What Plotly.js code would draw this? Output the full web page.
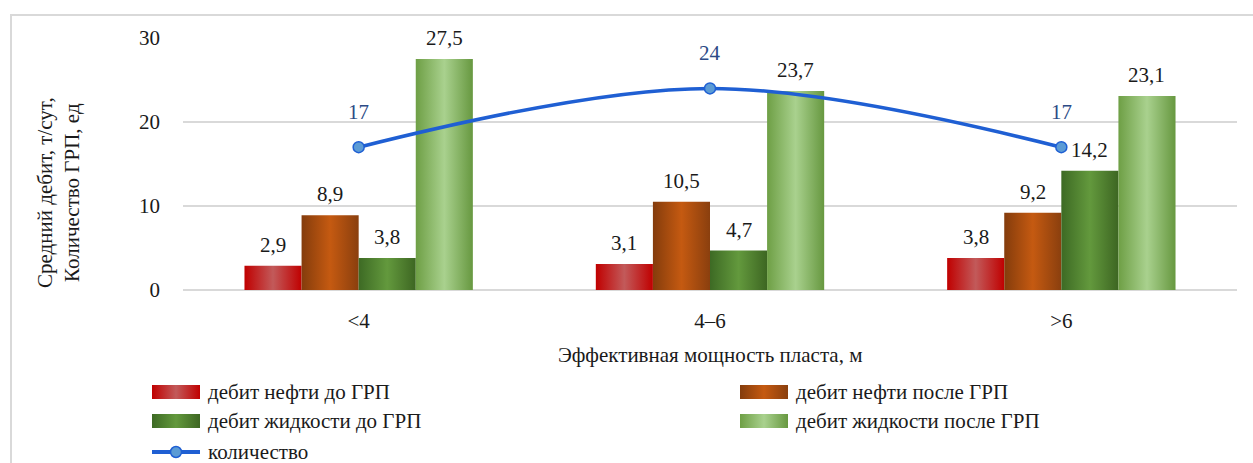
<!DOCTYPE html>
<html>
<head>
<meta charset="utf-8">
<script src="https://cdn.plot.ly/plotly-3.0.1.min.js"></script>
<style>
  html, body { margin: 0; padding: 0; background: #ffffff; }
  #chart { width: 1253px; height: 463px; }
</style>
</head>
<body>
<div id="chart"></div>
<script>
// Effective formation thickness groups
const categories = ['<4', '4–6', '>6'];

// Average flow rates, t/day
const oilBefore = [2.9, 3.1, 3.8];
const oilAfter = [8.9, 10.5, 9.2];
const liquidBefore = [3.8, 4.7, 14.2];
const liquidAfter = [27.5, 23.7, 23.1];

// Number of fracturing jobs
const fracCount = [17, 24, 17];

const seriesNames = [
  'дебит нефти до ГРП',
  'дебит нефти после ГРП',
  'дебит жидкости до ГРП',
  'дебит жидкости после ГРП',
  'количество'
];

const textColor = '#1a1a1a';
const barColors = ['#c42a35', '#b4510f', '#548235', '#93c264'];
// Edge / centre tones for the cylinder-like shading of each bar series
const barShades = [
  ['#c00000', '#c25a5a', '#c00000'],
  ['#843c0c', '#c55a11', '#8a3f0e'],
  ['#3d6a24', '#63993d', '#3d6622'],
  ['#6e9f45', '#a9d18e', '#679840']
];
const lineColor = '#1f5fd3';
const markerFill = '#5b9bd5';
const barValues = [oilBefore, oilAfter, liquidBefore, liquidAfter];

const BARGAP = 0.35;
const barWidth = (1 - BARGAP) / barValues.length;

const traces = barValues.map((vals, i) => ({
  type: 'bar',
  name: seriesNames[i],
  x: categories,
  y: vals,
  marker: { color: barColors[i], line: { width: 0 } },
  hoverinfo: 'x+y+name'
}));

traces.push({
  type: 'scatter',
  mode: 'lines+markers',
  name: seriesNames[4],
  x: categories,
  y: fracCount,
  line: { color: lineColor, width: 3.5, shape: 'spline', smoothing: 1 },
  marker: { symbol: 'circle', size: 11, color: markerFill, line: { color: lineColor, width: 1.5 } },
  cliponaxis: false
});

const fmt = v => v.toFixed(1).replace('.', ',');

// Value labels above each bar, placed at the bar's slot inside its group
const barLabels = [];
barValues.forEach((vals, s) => {
  const offset = (s - (barValues.length - 1) / 2) * barWidth;
  vals.forEach((v, i) => {
    barLabels.push({
      x: i + offset, y: v, xref: 'x', yref: 'y',
      text: fmt(v),
      showarrow: false,
      xanchor: 'center', yanchor: 'bottom',
      yshift: 7,
      font: { family: 'Liberation Serif', size: 21, color: textColor }
    });
  });
});

// Value labels above the line points
const lineLabels = categories.map((c, i) => ({
  x: i, y: fracCount[i], xref: 'x', yref: 'y',
  text: String(fracCount[i]),
  showarrow: false,
  xanchor: 'center', yanchor: 'middle',
  yshift: 35,
  font: { family: 'Liberation Serif', size: 21, color: '#2c4a86' }
}));

// Legend below the axis title: two columns, line series on the third row
const L = 183, T = 38, PW = 1054, PH = 252;
const px = x => (x - L) / PW;
const py = y => (T + PH - y) / PH;
const legendCols = [152, 740];
const legendRows = [392, 421, 452];
const legendShapes = [];
const legendTexts = [];
seriesNames.forEach((name, i) => {
  const col = legendCols[i % 2];
  const row = legendRows[Math.floor(i / 2)];
  if (i < 4) {
    legendShapes.push({
      type: 'rect', xref: 'paper', yref: 'paper',
      x0: px(col), x1: px(col + 48), y0: py(row + 7), y1: py(row - 7),
      fillcolor: barColors[i], line: { width: 0 }
    });
  } else {
    legendShapes.push({
      type: 'line', xref: 'paper', yref: 'paper',
      x0: px(col), x1: px(col + 48), y0: py(row), y1: py(row),
      line: { color: lineColor, width: 4 }
    });
    legendShapes.push({
      type: 'circle', xref: 'paper', yref: 'paper',
      x0: px(col + 18.5), x1: px(col + 29.5), y0: py(row + 5.5), y1: py(row - 5.5),
      fillcolor: markerFill, line: { color: lineColor, width: 1.5 }
    });
  }
  legendTexts.push({
    xref: 'paper', yref: 'paper',
    x: px(col + 54), y: py(row),
    xanchor: 'left', yanchor: 'middle',
    text: name,
    showarrow: false,
    font: { family: 'Liberation Serif', size: 21, color: textColor }
  });
});

const layout = {
  width: 1253,
  height: 463,
  paper_bgcolor: '#ffffff',
  plot_bgcolor: '#ffffff',
  font: { family: 'Liberation Serif', color: textColor },
  margin: { l: L, r: 1253 - L - PW, t: T, b: 463 - T - PH },
  barmode: 'group',
  bargap: BARGAP,
  bargroupgap: 0,
  showlegend: false,
  xaxis: {
    type: 'category',
    tickfont: { family: 'Liberation Serif', size: 21, color: textColor },
    ticks: '',
    ticklabelstandoff: 16,
    showline: false,
    showgrid: false,
    zeroline: false
  },
  yaxis: {
    range: [0, 30],
    dtick: 10,
    tickfont: { family: 'Liberation Serif', size: 21, color: textColor },
    ticks: '',
    ticklabelstandoff: 22,
    showgrid: true,
    gridcolor: '#d9d9d9',
    gridwidth: 1.5,
    zeroline: true,
    zerolinecolor: '#d9d9d9',
    zerolinewidth: 1.5,
    showline: false
  },
  annotations: [
    {
      xref: 'paper', yref: 'paper',
      x: px(58), y: py(193),
      xanchor: 'center', yanchor: 'middle',
      text: 'Средний дебит, т/сут,<br>Количество ГРП, ед',
      textangle: -90,
      showarrow: false,
      font: { family: 'Liberation Serif', size: 21, color: textColor }
    },
    {
      xref: 'paper', yref: 'paper',
      x: 0.5, y: py(355),
      xanchor: 'center', yanchor: 'middle',
      text: 'Эффективная мощность пласта, м',
      showarrow: false,
      font: { family: 'Liberation Serif', size: 21, color: textColor }
    }
  ].concat(barLabels, lineLabels, legendTexts),
  shapes: [
    {
      type: 'rect', xref: 'paper', yref: 'paper',
      x0: px(11), x1: px(1262), y0: py(475), y1: py(15),
      line: { color: '#d9d9d9', width: 2 },
      fillcolor: 'rgba(0,0,0,0)',
      layer: 'below'
    }
  ].concat(legendShapes)
};

// Horizontal edge-to-centre gradients for bars and their legend swatches
function applyShading(gd) {
  const svg = gd.querySelector('svg.main-svg');
  if (!svg) return;
  const NS = 'http://www.w3.org/2000/svg';
  let defs = svg.querySelector('defs');
  if (!defs) { defs = document.createElementNS(NS, 'defs'); svg.insertBefore(defs, svg.firstChild); }
  barShades.forEach((stops, i) => {
    const id = 'bar-shade-' + i;
    if (svg.querySelector('#' + id)) return;
    const g = document.createElementNS(NS, 'linearGradient');
    g.setAttribute('id', id);
    g.setAttribute('x1', '0'); g.setAttribute('x2', '1');
    g.setAttribute('y1', '0'); g.setAttribute('y2', '0');
    [[0, stops[0]], [0.5, stops[1]], [1, stops[2]]].forEach(([o, c]) => {
      const s = document.createElementNS(NS, 'stop');
      s.setAttribute('offset', o);
      s.setAttribute('stop-color', c);
      g.appendChild(s);
    });
    defs.appendChild(g);
  });
  gd.querySelectorAll('.barlayer .trace.bars').forEach((tr, i) => {
    tr.querySelectorAll('.point path').forEach(p => { p.style.fill = 'url(#bar-shade-' + i + ')'; });
  });
  gd.querySelectorAll('.shapelayer path').forEach(p => {
    const k = +p.getAttribute('data-index') - 1;
    if (k >= 0 && k < 4) p.style.fill = 'url(#bar-shade-' + k + ')';
  });
}

const gd = document.getElementById('chart');
Plotly.newPlot(gd, traces, layout, { displayModeBar: false })
  .then(() => applyShading(gd));
</script>
</body>
</html>
